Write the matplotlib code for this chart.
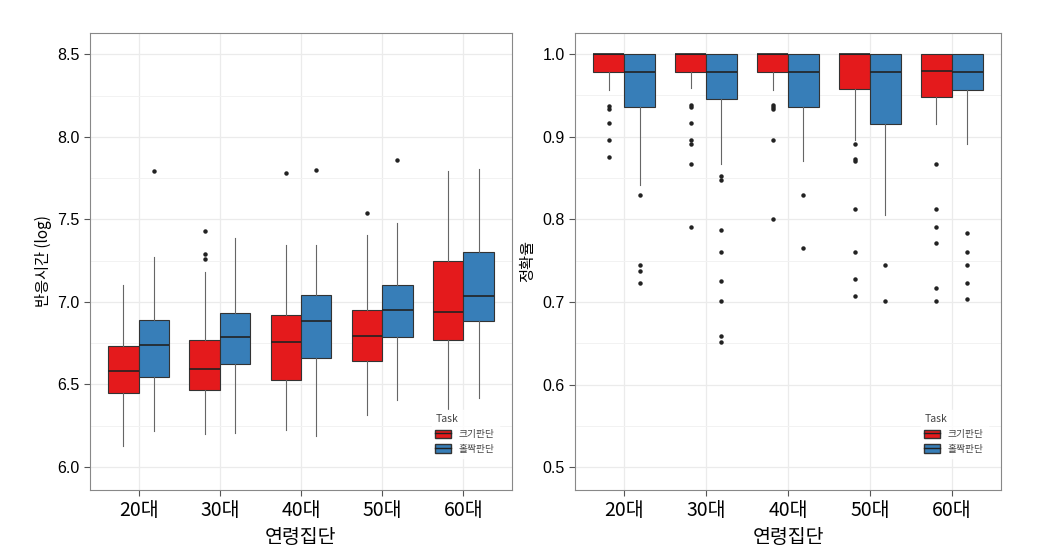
import matplotlib
matplotlib.use("Agg")
import matplotlib.pyplot as plt
from matplotlib.patches import Patch
from matplotlib.lines import Line2D
import numpy as np

plt.rcParams["font.family"] = ["Noto Sans CJK KR", "DejaVu Sans"]

groups = ["20대", "30대", "40대", "50대", "60대"]
tasks = ["크기판단", "홀짝판단"]
colors = ["#E41A1C", "#377EB8"]

# reaction time (log): [whislo, q1, med, q3, whishi], outliers
rt_size = [[6.125, 6.45, 6.583, 6.735, 7.10],
           [6.20, 6.468, 6.595, 6.77, 7.18],
           [6.225, 6.528, 6.76, 6.923, 7.346],
           [6.316, 6.644, 6.796, 6.95, 7.405],
           [6.352, 6.767, 6.94, 7.25, 7.794]]
rt_size_out = [[], [7.43, 7.29, 7.26], [7.78], [7.54], []]
rt_parity = [[6.22, 6.547, 6.737, 6.893, 7.27],
             [6.208, 6.623, 6.79, 6.935, 7.39],
             [6.19, 6.658, 6.887, 7.04, 7.346],
             [6.407, 6.787, 6.952, 7.10, 7.476],
             [6.417, 6.887, 7.033, 7.30, 7.808]]
rt_parity_out = [[7.794], [], [7.798], [7.862], []]

# accuracy
acc_size = [[0.957, 0.978, 1.0, 1.0, 1.0],
            [0.959, 0.978, 1.0, 1.0, 1.0],
            [0.957, 0.978, 1.0, 1.0, 1.0],
            [0.896, 0.958, 1.0, 1.0, 1.0],
            [0.915, 0.948, 0.979, 1.0, 1.0]]
acc_size_out = [[0.937, 0.934, 0.916, 0.896, 0.875],
                [0.938, 0.936, 0.916, 0.896, 0.891, 0.867, 0.791],
                [0.938, 0.936, 0.934, 0.896, 0.80],
                [0.891, 0.873, 0.870, 0.812, 0.760, 0.728, 0.707],
                [0.867, 0.812, 0.791, 0.771, 0.717, 0.701]]
acc_parity = [[0.842, 0.936, 0.978, 1.0, 1.0],
              [0.867, 0.945, 0.978, 1.0, 1.0],
              [0.871, 0.936, 0.978, 1.0, 1.0],
              [0.805, 0.915, 0.978, 1.0, 1.0],
              [0.891, 0.956, 0.978, 1.0, 1.0]]
acc_parity_out = [[0.829, 0.745, 0.738, 0.7226],
                  [0.852, 0.847, 0.787, 0.760, 0.726, 0.701, 0.659, 0.652],
                  [0.829, 0.765],
                  [0.745, 0.701],
                  [0.783, 0.760, 0.745, 0.7226, 0.704]]


def make_stats(vals, outs):
    stats = []
    for (lo, q1, med, q3, hi), fl in zip(vals, outs):
        stats.append(dict(whislo=lo, q1=q1, med=med, q3=q3, whishi=hi, fliers=fl))
    return stats


def draw_panel(ax, series, ylim, yticks, minor, ylabel):
    width = 0.375
    for k, (vals, outs) in enumerate(series):
        pos = np.arange(len(groups)) + (k - 0.5) * width
        ax.bxp(make_stats(vals, outs), positions=pos, widths=width,
               patch_artist=True, showcaps=False,
               boxprops=dict(facecolor=colors[k], edgecolor="#333333", lw=0.8),
               medianprops=dict(color="#222222", lw=1.2),
               whiskerprops=dict(color="#666666", lw=0.8),
               flierprops=dict(marker="o", markersize=2.2, markerfacecolor="#222222",
                               markeredgecolor="#222222"),
               zorder=3)
    ax.set_xlim(-0.6, len(groups) - 0.4)
    ax.set_ylim(*ylim)
    ax.set_xticks(range(len(groups)))
    ax.set_xticklabels(groups, fontsize=14)
    ax.set_yticks(yticks)
    ax.set_yticklabels([f"{t:.1f}" for t in yticks], fontsize=11.5,
                       family=["Liberation Sans", "DejaVu Sans"])
    ax.set_yticks(minor, minor=True)
    ax.tick_params(axis="y", which="minor", length=0)
    ax.tick_params(axis="both", which="major", color="#555555", length=4)
    ax.grid(True, which="major", color="#ebebeb", lw=0.9, zorder=0)
    ax.grid(True, which="minor", axis="y", color="#f2f2f2", lw=0.7, zorder=0)
    ax.set_axisbelow(True)
    for s in ax.spines.values():
        s.set_color("#888888")
    ax.set_xlabel("연령집단", fontsize=14)
    ax.set_ylabel(ylabel, fontsize=11)
    handles = [(Patch(facecolor=c, edgecolor="#333333"),
                Line2D([], [], color="#222222", lw=1)) for c in colors]
    leg = ax.legend(handles=handles, labels=tasks, title="Task", loc="lower right",
                    fontsize=7, title_fontsize=7.5, frameon=True,
                    bbox_to_anchor=(0.98, 0.06), handlelength=1.6, handleheight=0.9)
    leg.get_frame().set_edgecolor("white")
    for t in leg.get_texts():
        t.set_color("#444444")
    leg.get_title().set_color("#444444")
    leg._legend_box.align = "left"


fig = plt.figure(figsize=(10.41, 5.53), dpi=100)
ax1 = fig.add_axes([90 / 1041, 1 - 490 / 553, 422 / 1041, 457 / 553])
ax2 = fig.add_axes([575 / 1041, 1 - 490 / 553, 426 / 1041, 457 / 553])

draw_panel(ax1, [(rt_size, rt_size_out), (rt_parity, rt_parity_out)],
           (5.86, 8.63), [6.0, 6.5, 7.0, 7.5, 8.0, 8.5],
           [6.25, 6.75, 7.25, 7.75, 8.25], "반응시간 (log)")
draw_panel(ax2, [(acc_size, acc_size_out), (acc_parity, acc_parity_out)],
           (0.4726, 1.0254), [0.5, 0.6, 0.7, 0.8, 0.9, 1.0],
           [0.55, 0.65, 0.75, 0.85, 0.95], "정확율")

fig.savefig("out.png", dpi=100)
